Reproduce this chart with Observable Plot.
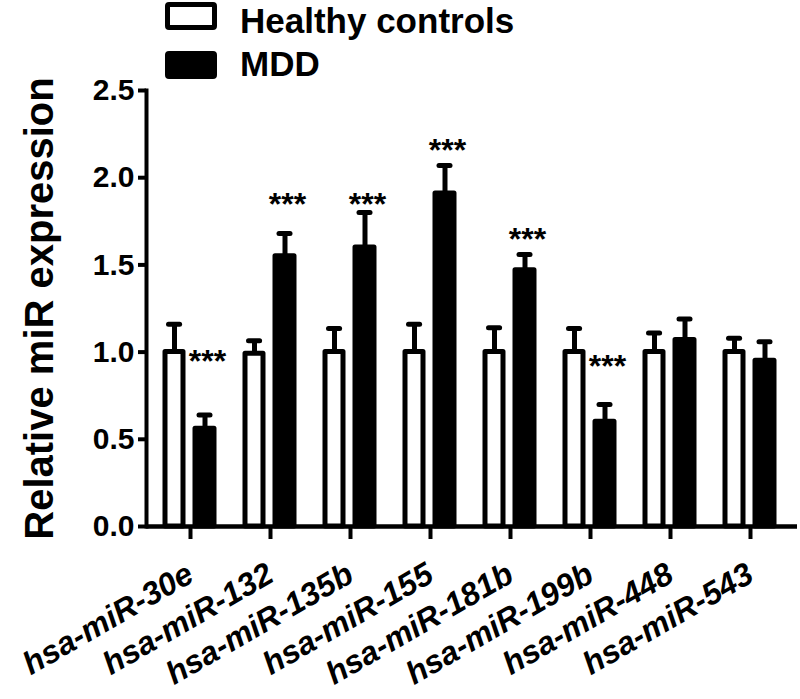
<!DOCTYPE html>
<html>
<head>
<meta charset="utf-8">
<script src="https://cdn.jsdelivr.net/npm/d3@7"></script>
<script src="https://cdn.jsdelivr.net/npm/@observablehq/plot@0.6"></script>
<style>
  body { margin: 0; background: #fff; font-family: "Liberation Sans", Arial, sans-serif; }
  #wrap { position: relative; width: 800px; height: 699px; overflow: hidden; }
  #legend { position: absolute; left: 0; top: 0; width: 800px; height: 86px; z-index: 2; }
  .box { position: absolute; left: 165px; box-sizing: border-box; width: 52px; height: 28px; border: 5px solid #000; border-radius: 4px; }
  .lbl { position: absolute; left: 240px; font-weight: bold; font-size: 35px; color: #000; line-height: 35px; white-space: nowrap; }
  #chart { position: absolute; left: 0; top: 0; }
</style>
</head>
<body>
<div id="wrap">
  <div id="legend"></div>
  <div id="chart"></div>
</div>
<script>
const genes = ["hsa-miR-30e", "hsa-miR-132", "hsa-miR-135b", "hsa-miR-155", "hsa-miR-181b", "hsa-miR-199b", "hsa-miR-448", "hsa-miR-543"];
const seriesNames = ["Healthy controls", "MDD"];
const seriesFills = ["#ffffff", "#000000"];
const hcValues = [1.00, 0.99, 1.00, 1.00, 1.00, 1.00, 1.00, 1.00];
const hcErrors = [0.16, 0.075, 0.135, 0.16, 0.14, 0.135, 0.11, 0.08];
const mddValues = [0.56, 1.55, 1.60, 1.91, 1.47, 0.60, 1.07, 0.95];
const mddErrors = [0.08, 0.13, 0.20, 0.16, 0.09, 0.10, 0.12, 0.11];
const starGenes = ["hsa-miR-30e", "hsa-miR-132", "hsa-miR-135b", "hsa-miR-155", "hsa-miR-181b", "hsa-miR-199b"];
const starLevels = [0.99, 1.89, 1.89, 2.20, 1.69, 0.96];
const starText = "***";
const yTicks = [0, 0.5, 1.0, 1.5, 2.0, 2.5];
const yTitle = "Relative miR expression";

const hcRows = genes.map((g, i) => ({gene: g, value: hcValues[i], upper: hcValues[i] + hcErrors[i]}));
const mddRows = genes.map((g, i) => ({gene: g, value: mddValues[i], upper: mddValues[i] + mddErrors[i]}));
const starRows = starGenes.map((g, i) => ({gene: g, level: starLevels[i]}));

// legend (HTML, above the plot area)
const legend = document.getElementById("legend");
const boxTops = [2, 51];
const textTops = [3, 46];
seriesNames.forEach((name, i) => {
  const box = document.createElement("div");
  box.className = "box";
  box.style.top = boxTops[i] + "px";
  box.style.background = seriesFills[i];
  const lbl = document.createElement("div");
  lbl.className = "lbl";
  lbl.style.top = textTops[i] + "px";
  lbl.textContent = name;
  legend.appendChild(box);
  legend.appendChild(lbl);
});

const font = "Liberation Sans, Arial, Helvetica, sans-serif";

const chart = Plot.plot({
  width: 800,
  height: 699,
  marginTop: 90,
  marginBottom: 173,
  marginLeft: 146,
  marginRight: 7,
  style: {fontFamily: font, background: "transparent", color: "black", overflow: "visible"},
  x: {domain: genes, padding: 0, label: null},
  y: {domain: [0, 2.5], label: null},
  marks: [
    Plot.barY(hcRows, {x: "gene", y: "value", fill: seriesFills[0], stroke: "black", strokeWidth: 5, strokeLinejoin: "round", insetLeft: 15, insetRight: 47}),
    Plot.barY(mddRows, {x: "gene", y: "value", fill: seriesFills[1], stroke: "black", strokeWidth: 5, strokeLinejoin: "round", insetLeft: 45, insetRight: 16}),
    Plot.ruleX(hcRows, {x: "gene", y1: "value", y2: "upper", dx: -16, strokeWidth: 5}),
    Plot.ruleX(mddRows, {x: "gene", y1: "value", y2: "upper", dx: 14.5, strokeWidth: 5}),
    Plot.tickY(hcRows, {x: "gene", y: "upper", insetLeft: 18.5, insetRight: 50.4, strokeWidth: 5, strokeLinecap: "round"}),
    Plot.tickY(mddRows, {x: "gene", y: "upper", insetLeft: 49, insetRight: 20, strokeWidth: 5, strokeLinecap: "round"}),
    Plot.ruleY([0], {strokeWidth: 4.5, insetRight: -4}),
    Plot.frame({anchor: "left", strokeWidth: 4}),
    Plot.axisY({ticks: yTicks, tickFormat: d3.format(".1f"), tickSize: 8, tickPadding: 4, strokeWidth: 4, fontSize: 30, fontWeight: "bold", label: null}),
    Plot.axisX({tickSize: 13, strokeWidth: 4, tickRotate: -30, tickPadding: 32, fontSize: 32, fontWeight: "bold", fontStyle: "italic", label: null}),
    Plot.text(starRows, {x: "gene", y: "level", text: () => starText, dx: 17, dy: 8, fontSize: 32, fontWeight: "bold"}),
    Plot.text([yTitle], {frameAnchor: "left", textAnchor: "middle", rotate: -90, dx: -106, fontSize: 40, fontWeight: "bold"})
  ]
});
document.getElementById("chart").appendChild(chart);
</script>
</body>
</html>
